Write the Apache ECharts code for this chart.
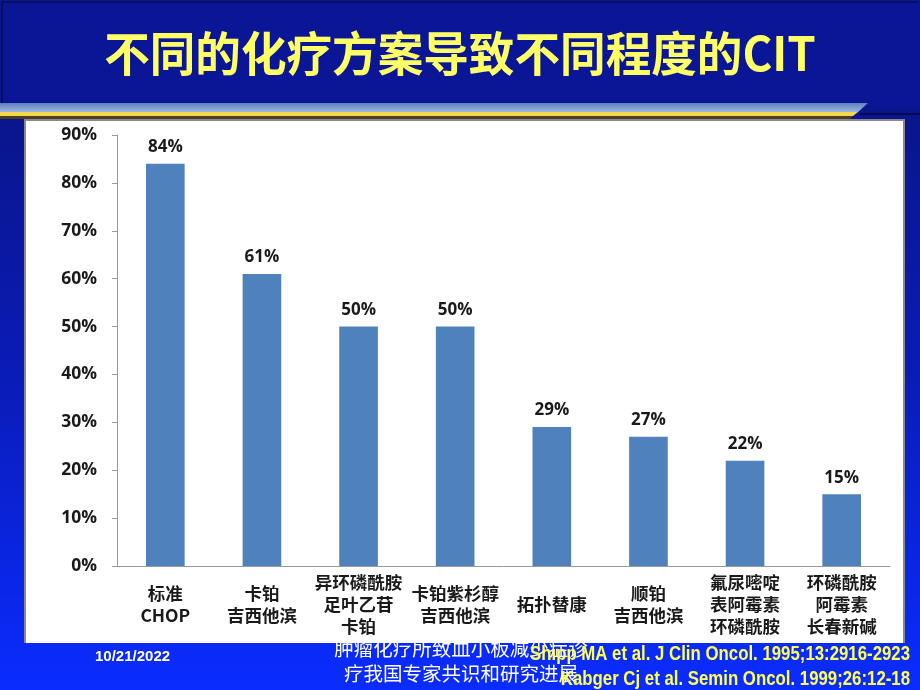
<!DOCTYPE html>
<html><head><meta charset="utf-8">
<script src="https://cdn.jsdelivr.net/npm/echarts@6/dist/echarts.min.js"></script>
<style>html,body{margin:0;padding:0;background:#0a1690;}#c{width:920px;height:690px;}</style>
</head><body><div id="c"></div>
<script>
const titleText = '不同的化疗方案导致不同程度的CIT';
const categories = ['标准\nCHOP', '卡铂\n吉西他滨', '异环磷酰胺\n足叶乙苷\n卡铂', '卡铂紫杉醇\n吉西他滨', '拓扑替康', '顺铂\n吉西他滨', '氟尿嘧啶\n表阿霉素\n环磷酰胺', '环磷酰胺\n阿霉素\n长春新碱'];
const values = [84, 61, 50, 50, 29, 27, 22, 15];
const yTicks = [0, 10, 20, 30, 40, 50, 60, 70, 80, 90];
const footerDate = '10/21/2022';
const footerCenter = '肿瘤化疗所致血小板减少症诊\n疗我国专家共识和研究进展';
const refs = ['Shipp MA et al. J Clin Oncol. 1995;13:2916-2923', 'Kabger Cj et al. Semin Oncol. 1999;26:12-18'];

const chart = echarts.init(document.getElementById('c'), null, {renderer: 'canvas'});
const cjk = '"Noto Sans CJK SC", "Noto Sans", sans-serif';
chart.setOption({
  backgroundColor: 'transparent',
  animation: false,
  graphic: [
    {type: 'rect', z: -10, shape: {x: 0, y: 0, width: 920, height: 690},
     style: {fill: new echarts.graphic.LinearGradient(0, 0, 0, 1, [
       {offset: 0, color: '#0a1488'}, {offset: 0.2, color: '#0a168f'}, {offset: 0.55, color: '#0a1cb8'}, {offset: 1, color: '#0a2cff'}])}},
    {type: 'rect', z: -9, shape: {x: 0, y: 0, width: 920, height: 106}, style: {fill: '#0a1696'}},
    {type: 'polyline', z: -8, shape: {points: [[2, 106], [2, 2], [918, 2]]}, style: {stroke: '#061060', lineWidth: 2, fill: null}},
    {type: 'line', z: -8, shape: {x1: 860, y1: 114, x2: 920, y2: 114}, style: {stroke: '#04083a', lineWidth: 1.5}},
    {type: 'polygon', z: -7, shape: {points: [[0, 103], [868, 103], [858, 112], [0, 112]]},
     style: {fill: new echarts.graphic.LinearGradient(0, 0, 0, 1, [{offset: 0, color: '#5f7fc0'}, {offset: 1, color: '#9fb8e0'}])}},
    {type: 'polygon', z: -7, shape: {points: [[0, 112], [858, 112], [853, 116], [0, 116]]}, style: {fill: '#f2d84a'}},
    {type: 'polygon', z: -7, shape: {points: [[0, 116], [853, 116], [850, 119], [0, 119]]}, style: {fill: '#4a4020'}},
    {type: 'text', z: -6, x: 461, y: 636,
     style: {text: footerCenter, fill: '#ffffff', font: '19.5px ' + cjk, lineHeight: 25, align: 'center'}},
    {type: 'rect', z: -5, shape: {x: 24, y: 119, width: 881, height: 524}, style: {fill: '#8a8a8a'}},
    {type: 'rect', z: -4, shape: {x: 26, y: 121, width: 877, height: 522}, style: {fill: '#ffffff'}},
    {type: 'text', z: 5, x: 460, y: 30, scaleX: 0.97, 
     style: {text: titleText, fill: '#ffff66', align: 'center', font: 'bold 47px "Noto Sans CJK SC", "Liberation Sans", sans-serif',
       textShadowColor: '#1a1a1a', textShadowOffsetX: 3, textShadowOffsetY: 3, textShadowBlur: 0}},
    {type: 'text', z: 5, x: 95, y: 649,
     style: {text: footerDate, fill: '#ffffff', font: 'bold 15px "Liberation Sans", Arial, sans-serif'}},
    {type: 'text', z: 5, x: 910, y: 642, scaleX: 0.84,
     style: {text: refs.join('\n'), fill: '#ffff55', font: 'bold 20px "Liberation Sans", sans-serif', lineHeight: 25, align: 'right'}}
  ],
  grid: {left: 117, right: 30, top: 135, bottom: 124},
  xAxis: {
    type: 'category', data: categories,
    axisLine: {lineStyle: {color: '#999999'}},
    axisTick: {show: false},
    axisLabel: {interval: 0, color: '#1a1a1a', fontSize: 17.5, fontWeight: 'bold', lineHeight: 22,
      fontFamily: cjk, verticalAlign: 'middle', margin: 38}
  },
  yAxis: {
    type: 'value', min: 0, max: 90, interval: 10,
    splitLine: {show: false},
    axisLine: {show: true, lineStyle: {color: '#999999'}},
    axisTick: {show: true, length: 5, lineStyle: {color: '#999999'}},
    axisLabel: {color: '#1a1a1a', fontSize: 17.5, fontWeight: 'bold', margin: 20,
      fontFamily: '"Open Sans", "Noto Sans", sans-serif', formatter: v => v + '%'}
  },
  series: [{
    type: 'bar', data: values, barWidth: '40%',
    itemStyle: {color: '#4f81bd'},
    label: {show: true, position: 'top', distance: 8, formatter: p => p.value + '%',
      color: '#1a1a1a', fontSize: 17, fontWeight: 'bold', fontFamily: '"Open Sans", "Noto Sans", sans-serif'}
  }]
});
</script></body></html>
